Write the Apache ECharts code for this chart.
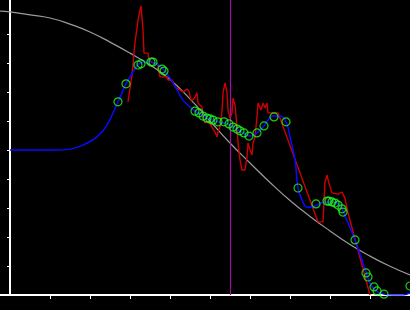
<!DOCTYPE html>
<html>
<head>
<meta charset="utf-8">
<script src="https://cdn.jsdelivr.net/npm/echarts@6/dist/echarts.min.js"></script>
<style>html,body{margin:0;padding:0;background:#000;}#c{width:410px;height:310px;}</style>
</head>
<body>
<div id="c"></div>
<script>
// Gray reference curve [x, y]
var grayCurve = [[-0.25,9.79],[0,9.76],[0.5,9.66],[1.0,9.55],[1.5,9.34],[2.0,9.07],[2.5,8.72],[3.0,8.34],[3.5,7.93],[4.0,7.43],[4.5,6.76],[5.0,6.0],[5.5,5.24],[6.0,4.55],[6.5,3.88],[7.0,3.26],[7.5,2.71],[8.0,2.21],[8.5,1.74],[9.0,1.34],[9.5,0.99],[10.0,0.69]];
// Blue smooth fit [x, y]
var blueFit = [[0,5.0],[1.125,5.0],[1.5,5.03],[1.825,5.17],[2.175,5.45],[2.425,5.86],[2.7,6.66],[2.9,7.28],[3.075,7.69],[3.25,8.0],[3.45,8.05],[3.625,8.0],[3.8,7.83],[4.0,7.48],[4.175,7.07],[4.325,6.72],[4.5,6.48],[4.625,6.34],[4.75,6.24],[4.95,6.10],[5.2,5.97],[5.45,5.90],[5.7,5.69],[5.875,5.55],[6.0,5.48],[6.175,5.59],[6.35,5.83],[6.575,6.17],[6.75,6.17],[6.9,5.97],[7.0,5.45],[7.125,4.66],[7.2,3.69],[7.3,3.28],[7.425,3.03],[7.625,3.07],[7.875,3.21],[8.075,3.21],[8.25,3.10],[8.325,2.90],[8.45,2.48],[8.625,1.90],[8.75,1.41],[8.9,0.79],[9.0,0.41],[9.125,0.17],[9.35,0.03],[9.575,0],[9.825,0],[10.0,0.07]];
// Red raw trace [x, y]
var redTrace = [[2.95,6.66],[3.05,7.59],[3.125,8.72],[3.175,9.21],[3.2,9.48],[3.25,9.83],[3.275,9.97],[3.325,9.97],[3.325,9.14],[3.35,8.34],[3.45,8.34],[3.475,8.10],[3.575,8.0],[3.7,7.97],[3.725,7.69],[3.75,7.52],[3.925,7.52],[3.95,7.41],[4.05,7.41],[4.125,7.17],[4.25,7.07],[4.325,7.0],[4.425,7.10],[4.475,7.03],[4.525,6.72],[4.6,6.76],[4.675,6.97],[4.7,6.62],[4.8,6.48],[4.825,6.10],[4.875,5.93],[4.95,6.0],[5.05,5.79],[5.125,5.62],[5.175,5.45],[5.2,5.62],[5.25,5.79],[5.3,6.31],[5.325,6.97],[5.375,7.31],[5.425,6.97],[5.45,6.38],[5.5,6.10],[5.55,6.28],[5.575,6.79],[5.625,6.55],[5.675,5.79],[5.7,5.24],[5.75,4.66],[5.8,4.31],[5.875,4.31],[5.925,4.76],[5.95,5.24],[6.0,5.0],[6.05,4.83],[6.075,5.24],[6.125,5.45],[6.175,6.14],[6.2,6.62],[6.275,6.38],[6.325,6.62],[6.375,6.45],[6.425,6.62],[6.45,6.28],[6.7,6.28],[7.7,2.52],[7.825,2.52],[7.85,3.21],[7.875,3.90],[7.925,4.14],[7.95,3.97],[8.0,4.03],[8.05,3.52],[8.2,3.48],[8.3,3.55],[8.325,3.55],[8.375,3.34],[8.45,2.83],[9.0,0]];
// Green sample points [x, y]
var greenPoints = [[2.7,6.66],[2.9,7.28],[3.2,7.93],[3.275,7.97],[3.525,8.03],[3.575,8.03],[3.8,7.79],[3.85,7.72],[4.625,6.34],[4.725,6.28],[4.825,6.17],[4.925,6.10],[5.0,6.07],[5.075,6.03],[5.2,5.97],[5.35,5.97],[5.475,5.90],[5.575,5.79],[5.675,5.72],[5.75,5.66],[5.85,5.59],[5.975,5.48],[6.175,5.59],[6.35,5.83],[6.6,6.14],[6.9,5.97],[7.2,3.69],[7.65,3.14],[7.925,3.24],[7.975,3.24],[8.05,3.21],[8.125,3.17],[8.2,3.10],[8.3,2.97],[8.325,2.86],[8.625,1.90],[8.9,0.76],[8.95,0.62],[9.1,0.28],[9.175,0.14],[9.35,0.03],[10.0,0.31]];
// Vertical marker position
var markerX = 5.5;
// Tick positions
var xTicks = [1,2,3,4,5,6,7,8,9,10];
var yTicks = [1,2,3,4,5,6,7,8,9];

var chart = echarts.init(document.getElementById('c'));
chart.setOption({
  animation: false,
  backgroundColor: '#000',
  grid: {left: 0, right: 0, top: 0, bottom: 15, containLabel: false},
  xAxis: {
    type: 'value', min: -0.25, max: 10,
    axisLine: {show: true, onZero: true, lineStyle: {color: '#fff', width: 2}},
    axisTick: {show: true, inside: false, length: 4, customValues: xTicks, lineStyle: {color: '#fff', width: 1}},
    axisLabel: {show: false},
    splitLine: {show: false}
  },
  yAxis: {
    type: 'value', min: 0, max: 10.172,
    axisLine: {show: true, onZero: true, lineStyle: {color: '#fff', width: 2}},
    axisTick: {show: true, inside: false, length: 3, customValues: yTicks, lineStyle: {color: '#fff', width: 1}},
    axisLabel: {show: false},
    splitLine: {show: false}
  },
  series: [
    {type: 'line', data: grayCurve, smooth: true, showSymbol: false, lineStyle: {color: '#9a9a9a', width: 1.2}, z: 2},
    {type: 'line', data: redTrace, smooth: false, showSymbol: false, lineStyle: {color: '#d00000', width: 1.4}, z: 3},
    {type: 'line', data: blueFit, smooth: 0.4, showSymbol: false, lineStyle: {color: '#0a0aff', width: 1.5}, z: 4},
    {type: 'scatter', data: greenPoints, symbol: 'circle', symbolSize: 8,
     itemStyle: {color: 'rgba(0,0,0,0)', borderColor: '#22ff22', borderWidth: 1.2}, z: 5},
    {type: 'line', data: [], z: 6,
     markLine: {silent: true, symbol: ['none','none'], label: {show: false},
       lineStyle: {color: '#a010a0', width: 1.2, type: 'solid'},
       data: [{xAxis: markerX}]}}
  ]
});
</script>
</body>
</html>
